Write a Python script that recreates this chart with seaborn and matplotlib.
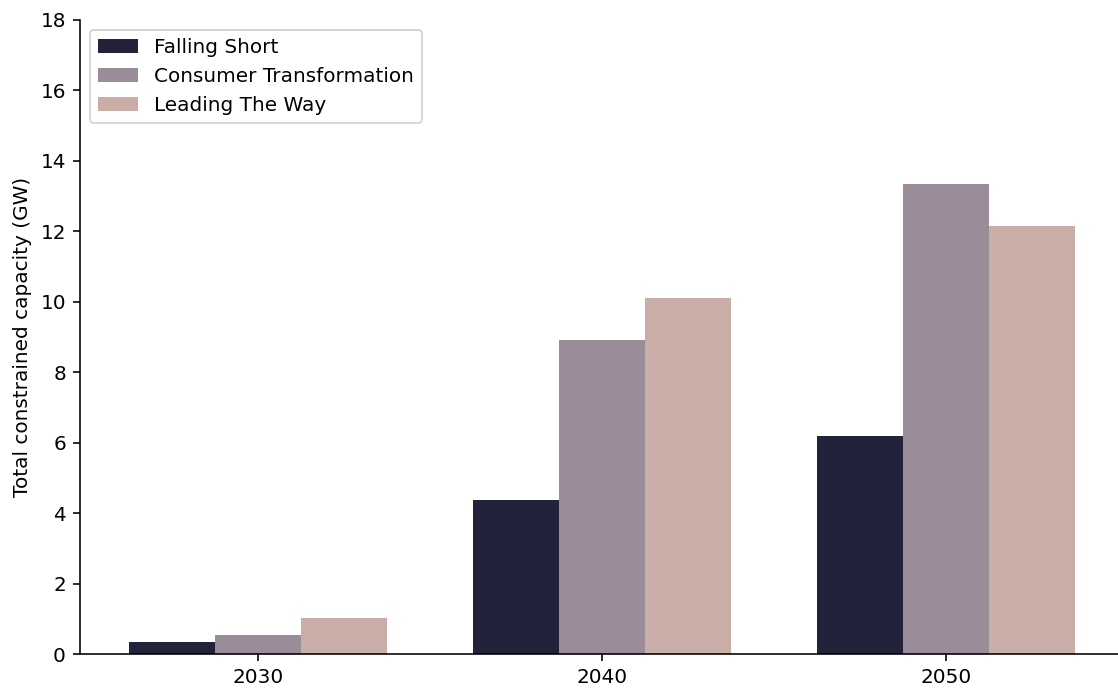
import matplotlib
matplotlib.use("Agg")
import matplotlib.pyplot as plt
import seaborn as sns
import pandas as pd

years = ["2030", "2040", "2050"]
scenarios = ["Falling Short", "Consumer Transformation", "Leading The Way"]
falling_short = [0.33, 4.37, 6.18]
consumer_transformation = [0.53, 8.92, 13.33]
leading_the_way = [1.03, 10.10, 12.14]
colors = ["#22223b", "#9a8c98", "#c9ada7"]

rows = []
for s, vals in zip(scenarios, [falling_short, consumer_transformation, leading_the_way]):
    for y, v in zip(years, vals):
        rows.append({"Year": y, "Scenario": s, "Capacity": v})
df = pd.DataFrame(rows)

DPI = 144
fig = plt.figure(figsize=(1118 / DPI, 691 / DPI), dpi=DPI)
ax = fig.add_axes([80 / 1118, 0.0535, 1038 / 1118, 0.918])
sns.barplot(data=df, x="Year", y="Capacity", hue="Scenario", hue_order=scenarios,
            order=years, palette=colors, width=0.75, ax=ax, saturation=1)
ax.set_ylim(0, 18)
ax.set_yticks(range(0, 19, 2))
ax.set_xlim(-0.517, 2.5)
ax.set_xlabel("")
ax.set_ylabel("Total constrained capacity (GW)")
ax.spines["top"].set_visible(False)
ax.spines["right"].set_visible(False)
ax.legend(title=None, loc="upper left", frameon=True)
fig.savefig("out.png", dpi=DPI)
